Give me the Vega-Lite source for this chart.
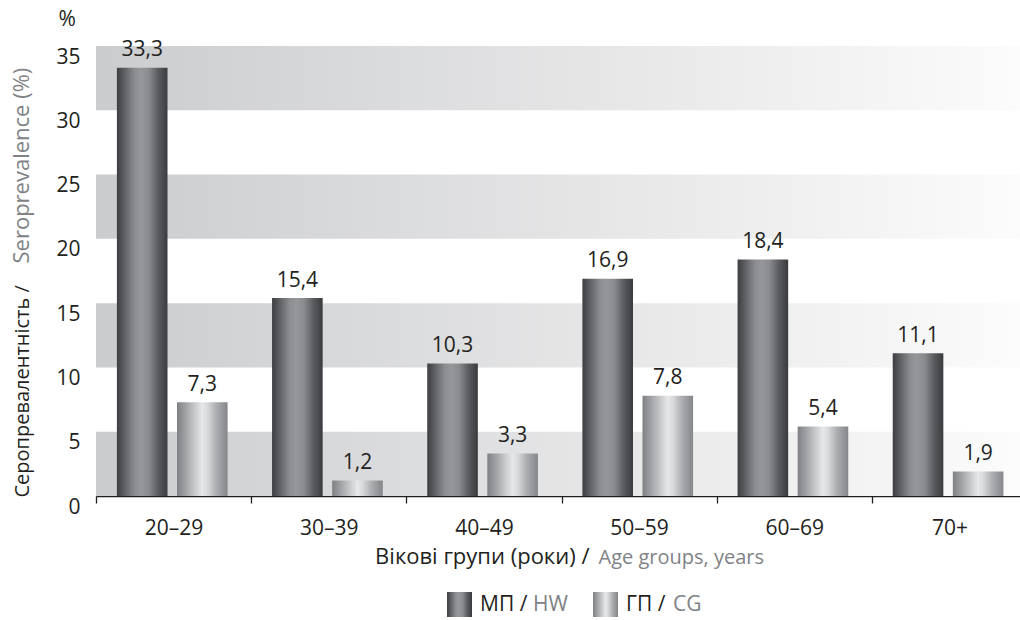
{
  "$schema": "https://vega.github.io/schema/vega-lite/v6.json",
  "autosize": {"type": "none"},
  "width": 931,
  "height": 450,
  "padding": {"left": 96, "top": 46, "right": -7, "bottom": 124},
  "datasets": {
    "bars": [
      {"age": "20–29", "group": "МП", "value": 33.3},
      {"age": "20–29", "group": "ГП", "value": 7.3},
      {"age": "30–39", "group": "МП", "value": 15.4},
      {"age": "30–39", "group": "ГП", "value": 1.2},
      {"age": "40–49", "group": "МП", "value": 10.3},
      {"age": "40–49", "group": "ГП", "value": 3.3},
      {"age": "50–59", "group": "МП", "value": 16.9},
      {"age": "50–59", "group": "ГП", "value": 7.8},
      {"age": "60–69", "group": "МП", "value": 18.4},
      {"age": "60–69", "group": "ГП", "value": 5.4},
      {"age": "70+", "group": "МП", "value": 11.1},
      {"age": "70+", "group": "ГП", "value": 1.9}
    ],
    "bands": [
      {"lo": 0, "hi": 5},
      {"lo": 10, "hi": 15},
      {"lo": 20, "hi": 25},
      {"lo": 30, "hi": 35}
    ]
  },
  "resolve": {"axis": {"x": "independent", "y": "independent"}},
  "layer": [
    {
      "data": {"name": "bands"},
      "mark": {"type": "rect", "color": {"gradient": "linear", "stops": [{"offset": 0, "color": "#cbccce"}, {"offset": 1, "color": "#fcfcfc"}]}},
      "encoding": {
        "y": {"field": "lo", "type": "quantitative", "scale": {"domain": [0, 35], "nice": false},
          "axis": {"orient": "left", "values": [0, 5, 10, 15, 20, 25, 30, 35], "grid": false, "domain": false, "ticks": false, "tickSize": 0,
            "labelPadding": 16, "labelBaseline": "top", "labelFontSize": 21, "labelColor": "#231f20",
            "title": "Серопревалентність /", "titleAlign": "left", "titleAnchor": null, "titleX": -68, "titleY": 451, "titleBaseline": "alphabetic", "titleAngle": -90,
            "titleFontSize": 20, "titleFontWeight": "normal", "titleColor": "#231f20"}},
        "y2": {"field": "hi"}
      }
    },
    {
      "data": {"name": "bars"},
      "mark": {"type": "bar"},
      "encoding": {
        "x": {"field": "age", "type": "nominal", "sort": ["20–29", "30–39", "40–49", "50–59", "60–69", "70+"],
          "scale": {"paddingInner": 0, "paddingOuter": 0},
          "axis": {"orient": "bottom", "labelAngle": 0, "labelFontSize": 21, "labelColor": "#231f20", "labelBaseline": "alphabetic", "labelPadding": 31,
            "tickBand": "extent", "tickSize": 7, "tickColor": "#231f20", "tickWidth": 1.3,
            "domainColor": "#231f20", "domainWidth": 1.3, "grid": false,
            "title": "Вікові групи (роки) /", "titleAlign": "right", "titleAnchor": null, "titleX": 493, "titleY": 67, "titleBaseline": "alphabetic",
            "titleFontSize": 22, "titleFontWeight": "normal", "titleColor": "#231f20"}},
        "xOffset": {"field": "group", "type": "nominal", "sort": ["МП", "ГП"], "scale": {"paddingInner": 0.158, "paddingOuter": 0.37, "align": 0.47}},
        "y": {"field": "value", "type": "quantitative", "scale": {"domain": [0, 35], "nice": false},
          "axis": {"orient": "left", "labels": false, "ticks": false, "domain": false, "grid": false,
            "title": "%", "titleAngle": 0, "titleAlign": "left", "titleAnchor": null, "titleX": -38, "titleY": -21, "titleBaseline": "alphabetic",
            "titleFontSize": 21, "titleFontWeight": "normal", "titleColor": "#231f20"}},
        "color": {
          "field": "group", "type": "nominal", "sort": ["МП", "ГП"],
          "scale": {"domain": ["МП", "ГП"], "range": [
            {"expr": "{gradient: 'linear', stops: [{offset: 0, color: '#3d3e41'}, {offset: 0.18, color: '#66676a'}, {offset: 0.35, color: '#8d8e92'}, {offset: 0.48, color: '#96979a'}, {offset: 0.63, color: '#8a8b8e'}, {offset: 0.82, color: '#5a5b5e'}, {offset: 1, color: '#3a3b3e'}]}"},
            {"expr": "{gradient: 'linear', stops: [{offset: 0, color: '#7f8083'}, {offset: 0.15, color: '#9d9ea1'}, {offset: 0.35, color: '#c8c9cb'}, {offset: 0.5, color: '#e6e7e8'}, {offset: 0.6, color: '#d9dadc'}, {offset: 0.78, color: '#acadb0'}, {offset: 1, color: '#85868a'}]}"}
          ]},
          "legend": {
            "orient": "none", "legendX": 351, "legendY": 546, "direction": "horizontal", "title": null,
            "symbolType": "square", "symbolSize": 625, "symbolStrokeWidth": 0, "symbolOpacity": 1,
            "labelFontSize": 21, "labelColor": "#231f20", "labelOffset": 8, "columnPadding": 65, "padding": 0,
            "labelExpr": "datum.label + ' /'"
          }
        }
      }
    },
    {
      "data": {"name": "bars"},
      "mark": {"type": "text", "baseline": "alphabetic", "dy": -11.5, "fontSize": 21, "color": "#231f20"},
      "encoding": {
        "x": {"field": "age", "type": "nominal", "sort": ["20–29", "30–39", "40–49", "50–59", "60–69", "70+"],
          "scale": {"paddingInner": 0, "paddingOuter": 0},
          "axis": {"orient": "bottom", "labels": false, "ticks": false, "domain": false, "grid": false,
            "title": "Age groups, years", "titleAlign": "left", "titleAnchor": null, "titleX": 502, "titleY": 67, "titleBaseline": "alphabetic",
            "titleFontSize": 20, "titleFontWeight": "normal", "titleColor": "#808285"}},
        "xOffset": {"field": "group", "type": "nominal", "sort": ["МП", "ГП"]},
        "y": {"field": "value", "type": "quantitative", "scale": {"domain": [0, 35], "nice": false},
          "axis": {"orient": "left", "labels": false, "ticks": false, "domain": false, "grid": false,
            "title": "Seroprevalence  (%)", "titleAlign": "left", "titleAnchor": null, "titleX": -68, "titleY": 217, "titleBaseline": "alphabetic", "titleAngle": -90,
            "titleFontSize": 22, "titleFontWeight": "normal", "titleColor": "#808285"}},
        "opacity": {"field": "group", "type": "nominal", "scale": {"domain": ["ГП", "МП"], "range": [1, 1]},
          "legend": {
            "orient": "none", "legendX": 416, "legendY": 548, "direction": "horizontal", "title": null, "values": ["МП", "ГП"],
            "symbolType": "square", "symbolSize": 0, "symbolStrokeWidth": 0, "symbolOpacity": 0,
            "labelFontSize": 21, "labelColor": "#808285", "labelOffset": 0, "columnPadding": 84, "padding": 0,
            "labelExpr": "datum.label === 'МП' ? 'HW' : 'CG'"
          }},
        "text": {"field": "value", "type": "quantitative", "format": ".1f"}
      }
    }
  ],
  "config": {
    "font": "Open Sans",
    "view": {"stroke": null},
    "locale": {"number": {"decimal": ",", "thousands": " ", "grouping": [3], "currency": ["", ""]}}
  }
}
